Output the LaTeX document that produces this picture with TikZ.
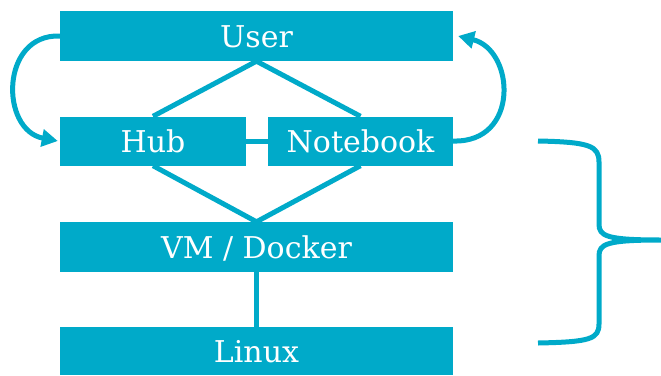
\documentclass[tikz,border=0pt]{standalone}
\usepackage{fontspec}
\setmainfont{DejaVu Serif}
\usetikzlibrary{arrows.meta}
\definecolor{teal1}{HTML}{00AAC9}
\tikzset{
  box/.style={fill=teal1, draw=none, inner sep=0pt, text=white,
    font=\fontsize{30}{36}\selectfont, text height=23pt, text depth=0pt},
  link/.style={draw=teal1, line width=5pt},
  curvearrow/.style={draw=teal1, line width=5pt, -{Triangle[length=16pt,width=17pt]}},
}
\begin{document}
\begin{tikzpicture}[x=1pt,y=-1pt]
\useasboundingbox (0,0) rectangle (661,375);
\node[box, minimum width=393pt, minimum height=50pt] (user) at (256.5,36) {User};
\node[box, minimum width=186pt, minimum height=49pt] (hub) at (153,141) {Hub};
\node[box, minimum width=185pt, minimum height=49pt] (nb) at (360.5,141) {Notebook};
\node[box, minimum width=393pt, minimum height=50pt] (vm) at (256.5,247) {VM / Docker};
\node[box, minimum width=393pt, minimum height=48pt] (linux) at (256.5,351) {Linux};
\coordinate (userR) at ([xshift=5pt]user.east);
\coordinate (hubL) at ([xshift=-2pt]hub.west);
\draw[link] (hub.north) -- (user.south) -- (nb.north);
\draw[link] (hub.south) -- (vm.north) -- (nb.south);
\draw[link] (hub.east) -- (nb.west);
\draw[link] (vm.south) -- (linux.north);
\draw[curvearrow] (user.west) .. controls (0,34) and (0,130) .. (hubL);
\draw[curvearrow] (nb.east) .. controls (520,143) and (515,50) .. (userR);
% brace
\coordinate (b1) at (538,141);
\coordinate (b2) at (661,240);
\coordinate (b3) at (538,343);
\draw[link] (b1) .. controls (590,142) and (599,146) .. (599,162) -- (599,224)
  .. controls (599,236) and (606,240) .. (b2)
  .. controls (606,240) and (599,244) .. (599,256) -- (599,324)
  .. controls (599,339) and (590,342) .. (b3);
\end{tikzpicture}
\end{document}
